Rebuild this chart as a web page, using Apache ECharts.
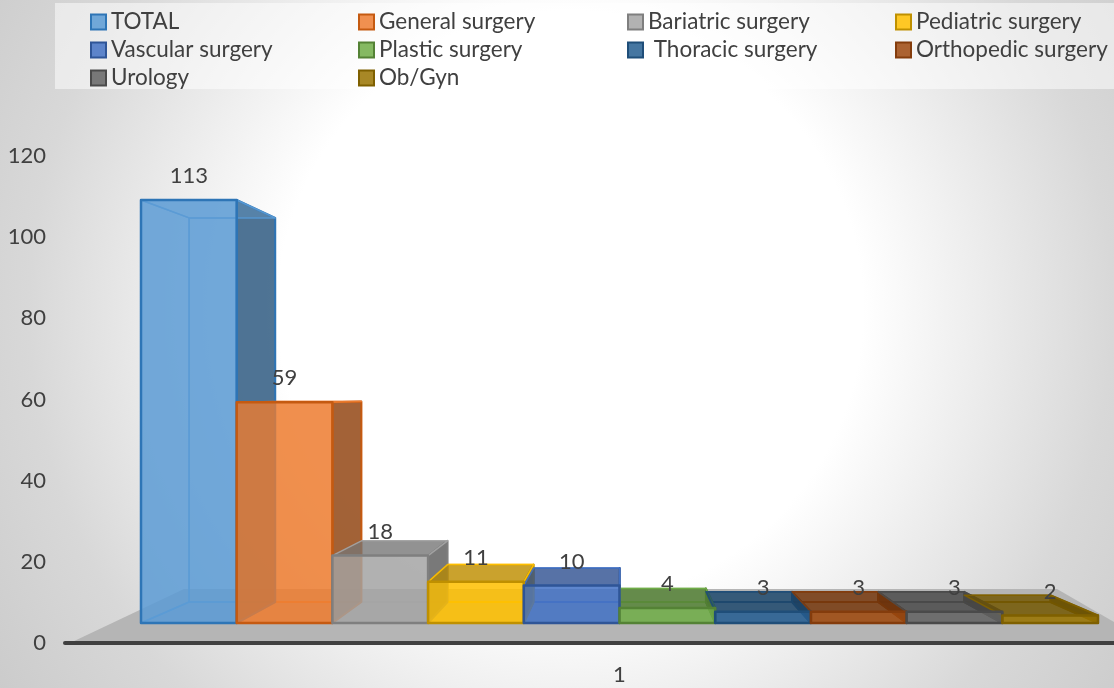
<!DOCTYPE html>
<html lang="en">

<head>
    <meta charset="UTF-8">
    <title>Surgery cases</title>
    <script src="https://cdn.jsdelivr.net/npm/echarts@6/dist/echarts.min.js"></script>
    <style>
        html, body { margin: 0; padding: 0; }
    </style>
</head>

<body>
    <div id="main" style="width: 1114px;height:688px;"></div>
    <script type="text/javascript">
        const categories = ['1'];
        const seriesNames = ['TOTAL', 'General surgery', 'Bariatric surgery', 'Pediatric surgery', 'Vascular surgery',
            'Plastic surgery', ' Thoracic surgery', 'Orthopedic surgery', 'Urology', 'Ob/Gyn'];
        const seriesValues = [113, 59, 18, 11, 10, 4, 3, 3, 3, 2];
        const tickLabels = [0, 20, 40, 60, 80, 100, 120];

        const fillColors = ['#5B9BD5', '#ED7D31', '#A5A5A5', '#FFC000', '#4472C4', '#70AD47', '#255E91', '#9E480E', '#636363', '#997300'];
        const edgeColors = ['#2E75B6', '#C55A11', '#7F7F7F', '#BF9000', '#2F5597', '#548235', '#1F4E79', '#843C0C', '#4A4A4A', '#7F6000'];

        const textColor = '#404040';
        const fontFamily = 'Lato, "Open Sans", sans-serif';

        // the back wall of the box is a smaller copy of the front plane
        const vanishX = 622;
        const depthScale = 0.9;
        const depthY = 0.908;
        const depthShift = 21;

        function rgba(hex, alpha, shade) {
            const s = shade === undefined ? 1 : shade;
            const n = parseInt(hex.slice(1), 16);
            const r = Math.round((n >> 16 & 255) * s);
            const g = Math.round((n >> 8 & 255) * s);
            const b = Math.round((n & 255) * s);
            return 'rgba(' + r + ',' + g + ',' + b + ',' + alpha + ')';
        }

        function makeRenderItem(idx) {
            return function (params, api) {
                const band = api.size([1, 0])[0];
                const barW = band / seriesNames.length;
                const center = api.coord([api.value(0), 0]);
                const baseY = center[1];
                const topY = api.coord([api.value(0), api.value(1)])[1];
                const x0 = center[0] - band / 2 + idx * barW;
                const x1 = x0 + barW;

                const backX = x => vanishX + (x - vanishX) * depthScale;
                const backY = y => baseY - depthShift - (baseY - y) * depthY;

                const fill = fillColors[idx];
                const edge = edgeColors[idx];

                const face = (pts, color, stroke, lineW, z2) => ({
                    type: 'polygon',
                    z2: z2,
                    shape: { points: pts },
                    style: { fill: color, stroke: stroke, lineWidth: lineW, lineJoin: 'round' }
                });

                const fl = [x0, baseY], fr = [x1, baseY], tl = [x0, topY], tr = [x1, topY];
                const bfl = [backX(x0), backY(baseY)], bfr = [backX(x1), backY(baseY)];
                const btl = [backX(x0), backY(topY)], btr = [backX(x1), backY(topY)];

                // a lid above eye level is seen from below and stays light
                const topFill = backY(topY) > topY + 1 ? rgba(fill, 0.3) : rgba(fill, 0.75, 0.72);
                const inner = rgba(idx > 5 ? edge : fill, 0.9);

                return {
                    type: 'group',
                    children: [
                        face([bfl, bfr, btr, btl], rgba(fill, 0.3), inner, 1.5, 1),
                        face([fl, fr, bfr, bfl], rgba(fill, 0.35), inner, 1.5, 2),
                        face([fl, tl, btl, bfl], rgba(fill, 0.25), inner, 1.5, 3),
                        face([fr, tr, btr, bfr], rgba(fill, 0.85, 0.62), edge, 2, 4),
                        face([tl, tr, btr, btl], topFill, inner, 1.5, 5),
                        face([fl, fr, tr, tl], rgba(fill, 0.8), edge, 2.5, 6),
                        {
                            type: 'text',
                            z2: 100,
                            style: {
                                text: String(api.value(1)),
                                x: (x0 + x1) / 2,
                                y: topY - 24,
                                align: 'center',
                                verticalAlign: 'middle',
                                fill: textColor,
                                font: '22px ' + fontFamily
                            }
                        }
                    ]
                };
            };
        }

        const legendColumns = [[0, 4, 8], [1, 5, 9], [2, 6], [3, 7]];
        const legendLeft = [85, 353, 622, 890];

        let myChart = echarts.init(document.getElementById('main'));

        let options = {
            animation: false,
            backgroundColor: {
                type: 'radial', x: 0.512, y: 0.45, r: 1.05,
                colorStops: [
                    { offset: 0, color: '#ffffff' },
                    { offset: 0.405, color: '#ffffff' },
                    { offset: 0.75, color: '#d8d8d8' },
                    { offset: 1, color: '#c8c8c8' }
                ]
            },
            legend: legendColumns.map((col, i) => ({
                orient: 'vertical',
                left: legendLeft[i],
                top: 5,
                itemWidth: 15,
                itemHeight: 15,
                itemGap: 4,
                icon: 'rect',
                selectedMode: false,
                data: col.map(k => seriesNames[k]),
                itemStyle: { borderWidth: 2 },
                textStyle: { color: textColor, fontSize: 22.5, fontFamily: fontFamily, lineHeight: 24 }
            })),
            graphic: [
                {
                    type: 'rect', z: 0, silent: true,
                    shape: { x: 55, y: 3, width: 1059, height: 86 },
                    style: { fill: 'rgba(255,255,255,0.5)' }
                },
                {
                    type: 'polygon', z: 0, silent: true,
                    shape: { points: [[70, 643], [184, 589], [1057, 589], [1114, 622], [1114, 643]] },
                    style: { fill: '#b5b5b5' }
                }
            ],
            grid: [
                { left: 65, right: 0, top: 156, bottom: 45 },
                { left: 141, width: 957, top: 173.8, height: 449.2 }
            ],
            xAxis: [
                {
                    gridIndex: 0, type: 'category', data: [''],
                    axisLine: { show: true, lineStyle: { color: textColor, width: 4, cap: 'round' } },
                    axisTick: { show: false }, axisLabel: { show: false }
                },
                {
                    gridIndex: 1, type: 'category', data: categories,
                    axisLine: { show: false }, axisTick: { show: false },
                    axisLabel: { color: textColor, fontSize: 22, fontFamily: fontFamily, margin: 41 }
                }
            ],
            yAxis: [
                {
                    gridIndex: 0, type: 'value', min: 0, max: tickLabels[tickLabels.length - 1], interval: 20,
                    axisLine: { show: false }, axisTick: { show: false }, splitLine: { show: false },
                    axisLabel: { color: textColor, fontSize: 22, fontFamily: fontFamily, margin: 19 }
                },
                {
                    gridIndex: 1, type: 'value', min: 0, max: tickLabels[tickLabels.length - 1],
                    show: false
                }
            ],
            series: seriesNames.map((name, i) => ({
                name: name,
                type: 'custom',
                xAxisIndex: 1,
                yAxisIndex: 1,
                z: 3,
                silent: true,
                itemStyle: { color: rgba(fillColors[i], 0.85), borderColor: edgeColors[i], borderWidth: 2 },
                encode: { x: 0, y: 1 },
                data: [[categories[0], seriesValues[i]]],
                renderItem: makeRenderItem(i)
            }))
        };

        myChart.setOption(options);
    </script>
</body>

</html>
